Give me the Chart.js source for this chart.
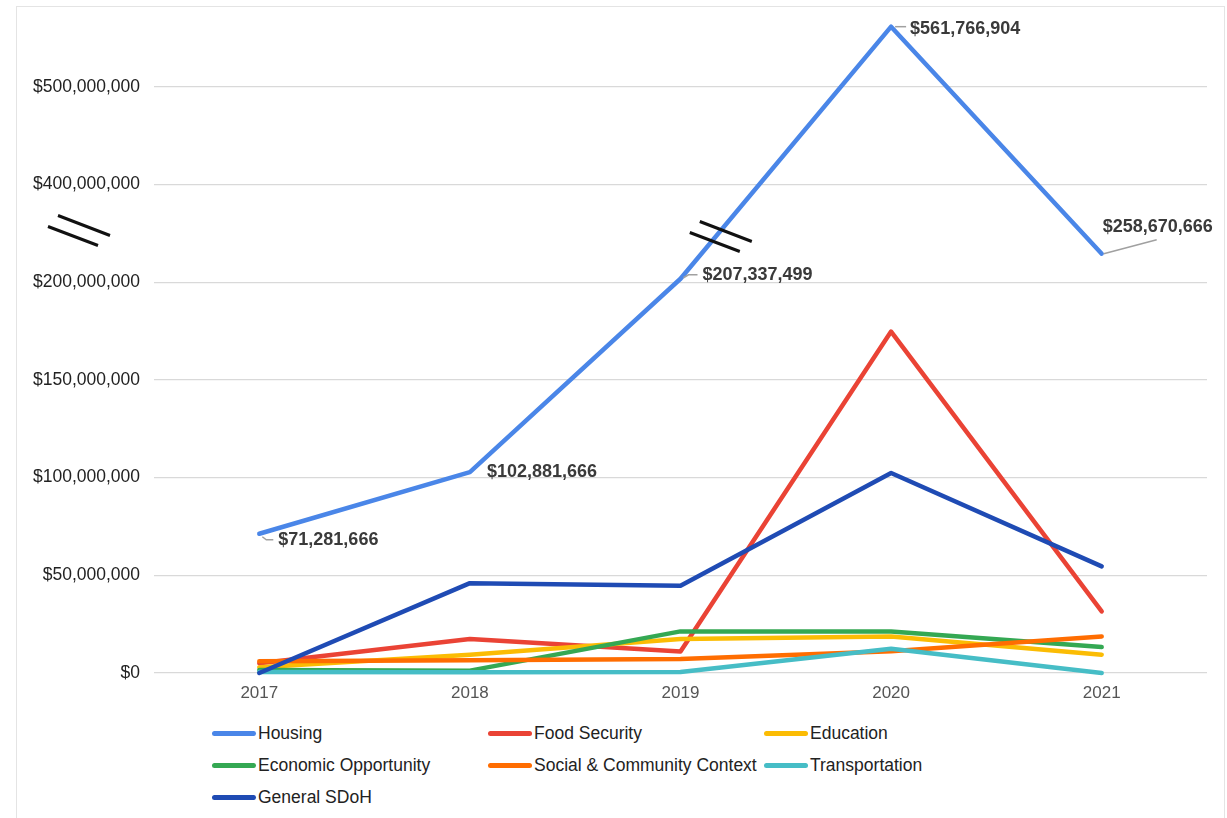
<!DOCTYPE html>
<html>
<head>
<meta charset="utf-8">
<script src="https://cdn.jsdelivr.net/npm/chart.js@4.4.1/dist/chart.umd.min.js"></script>
<style>
  html, body { margin: 0; padding: 0; background: #fff; }
  body { width: 1227px; height: 818px; position: relative; overflow: hidden; font-family: "Liberation Sans", Arial, sans-serif; }
  #frame { position: absolute; left: 16px; top: 6px; width: 1209px; height: 830px; border: 1.5px solid #e4e4e4; box-sizing: border-box; }
  #grafico { position: absolute; left: 0; top: 0; }
  #leyenda { position: absolute; left: 212px; top: 717px; display: grid; grid-template-columns: 276px 276px 276px; grid-auto-rows: 32px; }
  .item { display: flex; align-items: center; font-size: 17.5px; color: #222; white-space: nowrap; }
  .item i { display: inline-block; width: 44px; height: 5px; border-radius: 3px; margin-right: 2px; }
</style>
</head>
<body>
<div id="frame"></div>
<canvas id="grafico" width="1227" height="710"></canvas>
<div id="leyenda"></div>
<script>
const years = ['2017', '2018', '2019', '2020', '2021'];
const housing = [71281666, 102881666, 207337499, 561766904, 258670666];
const foodSecurity = [5000000, 17400000, 11000000, 174800000, 31500000];
const education = [3000000, 9400000, 17400000, 18700000, 9400000];
const economicOpportunity = [1500000, 1200000, 21300000, 21300000, 13300000];
const socialCommunity = [6000000, 6500000, 7200000, 11100000, 18700000];
const transportation = [500000, 400000, 500000, 12400000, 0];
const generalSdoh = [0, 46000000, 44700000, 102400000, 54600000];

const seriesNames = ['Housing', 'Food Security', 'Education', 'Economic Opportunity',
  'Social & Community Context', 'Transportation', 'General SDoH'];
const seriesColors = ['#4a86e8', '#ea4335', '#fbbc04', '#34a853', '#ff6d01', '#46bdc6', '#1f4bb4'];
const seriesData = [housing, foodSecurity, education, economicOpportunity,
  socialCommunity, transportation, generalSdoh];

const yTicks = [0, 50000000, 100000000, 150000000, 200000000, 400000000, 500000000];

// broken axis: 0-200M every 50M, then 200M-400M squeezed into one step, then 100M per step
function toAxis(v) {
  if (v <= 200e6) return v / 50e6;
  if (v <= 400e6) return 4 + (v - 200e6) / 200e6;
  return 5 + (v - 400e6) / 100e6;
}
function fromAxis(a) {
  if (a <= 4) return a * 50e6;
  if (a <= 5) return 200e6 + (a - 4) * 200e6;
  return 400e6 + (a - 5) * 100e6;
}

const LinearScale = Chart.LinearScale || Chart.registry.getScale('linear');

class BrokenLinearScale extends LinearScale {
  buildTicks() {
    return yTicks.map(v => ({ value: v }));
  }
  getPixelForValue(value) {
    const lo = toAxis(this.min), hi = toAxis(this.max);
    return this.getPixelForDecimal((toAxis(value) - lo) / (hi - lo));
  }
  getValueForPixel(pixel) {
    const lo = toAxis(this.min), hi = toAxis(this.max);
    return fromAxis(lo + this.getDecimalForPixel(pixel) * (hi - lo));
  }
}
BrokenLinearScale.id = 'brokenLinear';
BrokenLinearScale.defaults = LinearScale.defaults;
Chart.register(BrokenLinearScale);

const money = v => '$' + Math.round(v).toLocaleString('en-US');

// where each housing label sits, relative to its point
const housingLabels = [
  { dx: 19, dy: 6, lead: [[3, 3], [7, 6], [14, 6]] },
  { dx: 17, dy: 0, lead: [] },
  { dx: 22, dy: -4, lead: [[3, -1], [8, -4], [17, -4]] },
  { dx: 19, dy: 2, lead: [[4, 0], [15, 0]] },
  { dx: 1, dy: -27, lead: [[2, 0], [55, -14]] }
];

const etiquetas = {
  id: 'etiquetas',
  afterDatasetsDraw(chart) {
    const ctx = chart.ctx;
    const pts = chart.getDatasetMeta(0).data;
    ctx.save();
    pts.forEach((p, i) => {
      const l = housingLabels[i];
      if (l.lead.length) {
        ctx.strokeStyle = '#a0a0a0';
        ctx.lineWidth = 1.5;
        ctx.beginPath();
        l.lead.forEach(([x, y], k) => k ? ctx.lineTo(p.x + x, p.y + y) : ctx.moveTo(p.x + x, p.y + y));
        ctx.stroke();
      }
      ctx.font = 'bold 18px "Liberation Sans", Arial, sans-serif';
      ctx.fillStyle = '#3a3a3a';
      ctx.textAlign = 'left';
      ctx.textBaseline = 'middle';
      ctx.fillText(money(housing[i]), p.x + l.dx, p.y + l.dy);
    });
    ctx.restore();
  }
};

// "//" marks for the axis break, on the axis and on the housing line
const cortes = {
  id: 'cortes',
  afterDraw(chart) {
    const ctx = chart.ctx;
    const y = chart.scales.y;
    const cy = (y.getPixelForValue(200e6) + y.getPixelForValue(400e6)) / 2;
    const mark = (cx, cy) => {
      ctx.beginPath();
      ctx.moveTo(cx - 21, cy - 15); ctx.lineTo(cx + 31, cy + 5);
      ctx.moveTo(cx - 31, cy - 4); ctx.lineTo(cx + 19, cy + 15);
      ctx.stroke();
    };
    ctx.save();
    ctx.strokeStyle = '#111';
    ctx.lineWidth = 3;
    mark(79, cy - 3);
    const pts = chart.getDatasetMeta(0).data;
    const a = pts[2], b = pts[3];
    const ly = cy + 3;
    const lx = a.x + (ly - a.y) / (b.y - a.y) * (b.x - a.x);
    mark(lx + 5, ly);
    ctx.restore();
  }
};

const ctx = document.getElementById('grafico').getContext('2d');
new Chart(ctx, {
  type: 'line',
  data: {
    labels: years,
    datasets: seriesNames.map((name, i) => ({
      label: name,
      data: seriesData[i],
      borderColor: seriesColors[i],
      backgroundColor: seriesColors[i],
      borderWidth: 4.5,
      pointRadius: 0,
      tension: 0,
      borderCapStyle: 'round',
      borderJoinStyle: 'round',
      clip: false,
      order: seriesNames.length - i
    }))
  },
  options: {
    responsive: false,
    animation: false,
    layout: { padding: { top: 9.5, right: 20, left: 0, bottom: 0 } },
    scales: {
      x: {
        offset: true,
        grid: { display: false, drawTicks: false },
        border: { display: false },
        ticks: { color: '#555', font: { size: 17, family: '"Liberation Sans", Arial, sans-serif' }, padding: 10 },
        afterFit: s => { s.height = 37; }
      },
      y: {
        type: 'brokenLinear',
        min: 0,
        max: 564000000,
        grid: { color: '#d9d9d9', lineWidth: 1.2, drawTicks: false },
        border: { display: false },
        ticks: {
          color: '#222',
          padding: 14,
          font: { size: 17.5, family: '"Liberation Sans", Arial, sans-serif' },
          callback: v => money(v)
        },
        afterFit: s => { s.width = 154; }
      }
    },
    plugins: {
      legend: { display: false },
      tooltip: { enabled: false }
    }
  },
  plugins: [etiquetas, cortes]
});

const leyenda = document.getElementById('leyenda');
seriesNames.forEach((name, i) => {
  const d = document.createElement('div');
  d.className = 'item';
  const sw = document.createElement('i');
  sw.style.background = seriesColors[i];
  d.appendChild(sw);
  d.appendChild(document.createTextNode(name));
  leyenda.appendChild(d);
});
</script>
</body>
</html>
